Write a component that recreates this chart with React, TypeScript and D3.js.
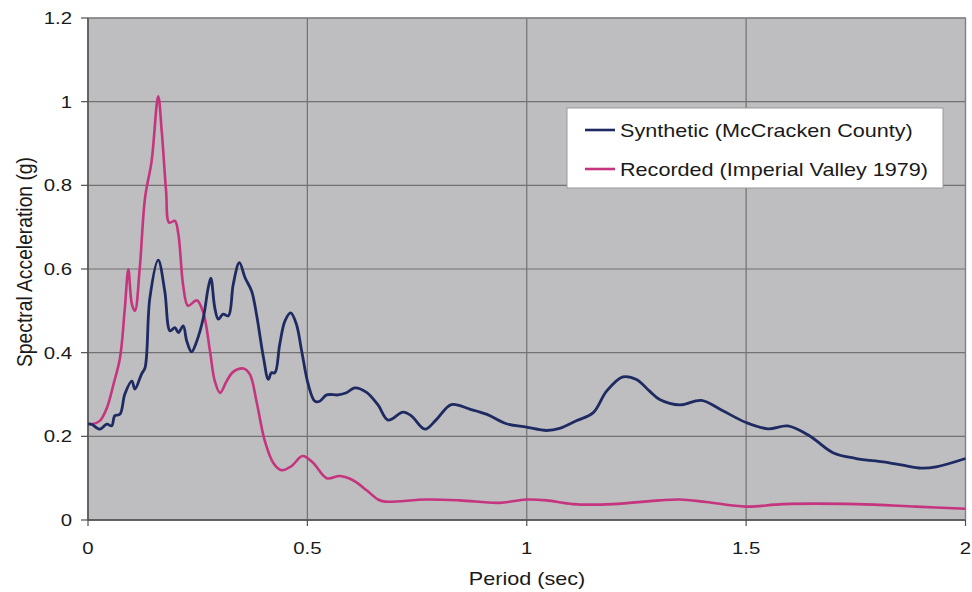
import React from "react";
import * as d3 from "d3";

const xTicks = [0, 0.5, 1, 1.5, 2];
const xTickLabels = ["0", "0.5", "1", "1.5", "2"];
const yTicks = [0, 0.2, 0.4, 0.6, 0.8, 1, 1.2];
const yTickLabels = ["0", "0.2", "0.4", "0.6", "0.8", "1", "1.2"];

const synthPeriod = [0, 0.008, 0.027, 0.043, 0.054, 0.061, 0.073, 0.084, 0.1, 0.107, 0.122, 0.13, 0.141, 0.16, 0.175, 0.187, 0.198, 0.206, 0.217, 0.225, 0.236, 0.248, 0.263, 0.274, 0.28, 0.289, 0.297, 0.308, 0.32, 0.331, 0.345, 0.358, 0.373, 0.384, 0.4, 0.411, 0.418, 0.426, 0.437, 0.449, 0.462, 0.475, 0.487, 0.502, 0.517, 0.528, 0.544, 0.57, 0.589, 0.608, 0.635, 0.661, 0.684, 0.718, 0.737, 0.768, 0.794, 0.828, 0.87, 0.908, 0.954, 0.999, 1.045, 1.075, 1.113, 1.151, 1.182, 1.219, 1.25, 1.28, 1.303, 1.349, 1.398, 1.447, 1.5, 1.55, 1.595, 1.645, 1.698, 1.751, 1.812, 1.857, 1.899, 1.933, 2.0];
const synthAccel = [0.23, 0.229, 0.217, 0.229, 0.225, 0.249, 0.253, 0.301, 0.332, 0.313, 0.349, 0.364, 0.531, 0.621, 0.547, 0.452, 0.46, 0.448, 0.464, 0.428, 0.402, 0.428, 0.484, 0.555, 0.578, 0.507, 0.48, 0.492, 0.488, 0.563, 0.615, 0.579, 0.547, 0.492, 0.388, 0.336, 0.352, 0.352, 0.42, 0.476, 0.495, 0.468, 0.404, 0.324, 0.284, 0.284, 0.299, 0.299, 0.304, 0.316, 0.305, 0.275, 0.239, 0.258, 0.249, 0.217, 0.24, 0.276, 0.265, 0.253, 0.23, 0.222, 0.214, 0.219, 0.237, 0.256, 0.308, 0.342, 0.336, 0.308, 0.288, 0.275, 0.286, 0.261, 0.233, 0.218, 0.225, 0.201, 0.161, 0.147, 0.139, 0.131, 0.124, 0.127, 0.147];

const recPeriod = [0, 0.008, 0.027, 0.043, 0.058, 0.073, 0.084, 0.092, 0.1, 0.107, 0.118, 0.13, 0.145, 0.16, 0.168, 0.178, 0.185, 0.198, 0.206, 0.217, 0.228, 0.248, 0.263, 0.278, 0.289, 0.301, 0.316, 0.331, 0.354, 0.369, 0.384, 0.403, 0.422, 0.441, 0.464, 0.489, 0.513, 0.544, 0.574, 0.604, 0.635, 0.661, 0.677, 0.771, 0.847, 0.938, 0.999, 1.045, 1.105, 1.196, 1.303, 1.349, 1.409, 1.5, 1.584, 1.751, 1.888, 2.0];
const recAccel = [0.23, 0.229, 0.237, 0.268, 0.324, 0.388, 0.507, 0.599, 0.516, 0.5, 0.603, 0.77, 0.858, 1.013, 0.93, 0.786, 0.711, 0.715, 0.683, 0.56, 0.512, 0.525, 0.495, 0.404, 0.332, 0.304, 0.332, 0.354, 0.362, 0.348, 0.284, 0.189, 0.137, 0.119, 0.129, 0.153, 0.137, 0.1, 0.105, 0.095, 0.071, 0.049, 0.044, 0.049, 0.047, 0.041, 0.049, 0.047, 0.038, 0.038, 0.047, 0.049, 0.043, 0.032, 0.038, 0.038, 0.032, 0.027];

const seriesNames = ["Synthetic (McCracken County)", "Recorded (Imperial Valley 1979)"];
const seriesColors = ["#1e2a62", "#c5357f"];
const xTitle = "Period (sec)";
const yTitle = "Spectral Acceleration (g)";

const W = 972;
const H = 592;
const left = 88;
const right = 965.5;
const top = 18;
const bottom = 520;
const SX = 1.2;
const FONT = "'Liberation Sans', Arial, Helvetica, sans-serif";

function SText(props: { x: number; y: number; size: number; anchor?: string; children: React.ReactNode }) {
  return (
    <text
      transform={`translate(${props.x},${props.y}) scale(${SX},1)`}
      fontSize={props.size}
      textAnchor={props.anchor || "start"}
      fontFamily={FONT}
      fill="#1a1a1a"
    >
      {props.children}
    </text>
  );
}

export default function App() {
  const x = d3.scaleLinear().domain([0, 2]).range([left, right]);
  const y = d3.scaleLinear().domain([0, 1.2]).range([bottom, top]);
  const line = d3
    .line<[number, number]>()
    .x((d) => x(d[0]))
    .y((d) => y(d[1]))
    .curve(d3.curveCatmullRom.alpha(0.5));
  const synth = synthPeriod.map((p, i) => [p, synthAccel[i]] as [number, number]);
  const rec = recPeriod.map((p, i) => [p, recAccel[i]] as [number, number]);

  const legX = 567;
  const legY = 108;
  return (
    <svg
      width={W}
      height={H}
      style={{ position: "fixed", left: 0, top: 0, background: "#fff" }}
    >
      <rect x={left} y={top} width={right - left} height={bottom - top} fill="#bebdbf" />
      {yTicks.map((t) => (
        <line key={"gy" + t} x1={left} x2={right} y1={y(t)} y2={y(t)} stroke="#727272" strokeWidth={1.2} />
      ))}
      {xTicks.map((t) => (
        <line key={"gx" + t} x1={x(t)} x2={x(t)} y1={top} y2={bottom} stroke="#727272" strokeWidth={1.2} />
      ))}
      <rect x={left} y={top} width={right - left} height={bottom - top} fill="none" stroke="#808080" strokeWidth={1.2} />
      <line x1={left} x2={left} y1={top} y2={bottom} stroke="#505050" strokeWidth={1.3} />
      <line x1={left} x2={right} y1={bottom} y2={bottom} stroke="#505050" strokeWidth={1.3} />
      {yTicks.map((t) => (
        <line key={"ty" + t} x1={left - 7} x2={left} y1={y(t)} y2={y(t)} stroke="#505050" strokeWidth={1.2} />
      ))}
      {xTicks.map((t) => (
        <line key={"tx" + t} x1={x(t)} x2={x(t)} y1={bottom} y2={bottom + 6} stroke="#505050" strokeWidth={1.2} />
      ))}
      {yTicks.map((t, i) => (
        <SText key={"ly" + t} x={72} y={y(t) + 6} size={17} anchor="end">
          {yTickLabels[i]}
        </SText>
      ))}
      {xTicks.map((t, i) => (
        <SText key={"lx" + t} x={x(t)} y={553.5} size={17} anchor="middle">
          {xTickLabels[i]}
        </SText>
      ))}
      <SText x={527} y={585} size={18} anchor="middle">
        {xTitle}
      </SText>
      <text
        transform={`translate(32,262) scale(${SX},1) rotate(-90)`}
        fontSize={18}
        textAnchor="middle"
        fontFamily={FONT}
        fill="#1a1a1a"
        textLength={210}
        lengthAdjust="spacingAndGlyphs"
      >
        {yTitle}
      </text>

      <path d={line(rec) || ""} fill="none" stroke={seriesColors[1]} strokeWidth={2.6} strokeLinejoin="round" />
      <path d={line(synth) || ""} fill="none" stroke={seriesColors[0]} strokeWidth={2.8} strokeLinejoin="round" />

      <rect x={legX} y={legY} width={376} height={80} fill="#ffffff" stroke="#9a9a9a" strokeWidth={1} />
      {seriesNames.map((n, i) => (
        <g key={n}>
          <line
            x1={legX + 18}
            x2={legX + 48}
            y1={legY + 22 + i * 39}
            y2={legY + 22 + i * 39}
            stroke={seriesColors[i]}
            strokeWidth={2.6}
          />
          <SText x={legX + 53} y={legY + 28.5 + i * 39} size={18}>
            {n}
          </SText>
        </g>
      ))}
    </svg>
  );
}
